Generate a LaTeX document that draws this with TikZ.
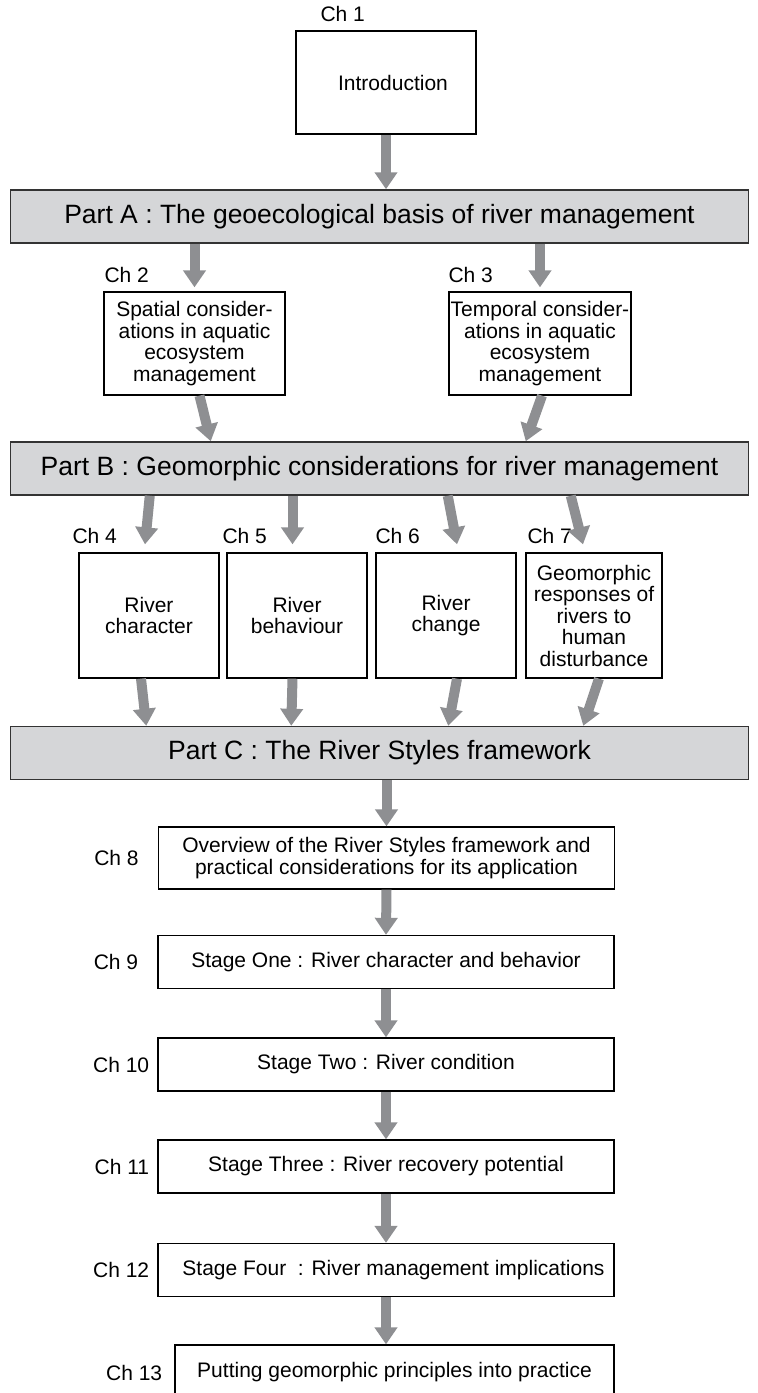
\documentclass[tikz,border=0pt]{standalone}
\usepackage{fontspec}
\setmainfont{Liberation Sans}
\usetikzlibrary{arrows.meta,positioning,calc}
\definecolor{bargray}{RGB}{213,214,216}
\definecolor{flowgray}{RGB}{142,143,146}

\begin{document}
\begin{tikzpicture}[
  x=1pt, y=-1pt,
  font=\fontsize{21}{21.5}\selectfont,
  box/.style={draw=black, line width=1.3pt, fill=white, align=center, inner sep=0pt},
  part/.style={box, draw=black!80, line width=1.5pt, fill=bargray,
               minimum width=738pt, minimum height=53pt,
               font=\fontsize{26.5}{30}\selectfont},
  chap/.style={box, minimum width=140pt, minimum height=125pt},
  stage/.style={box, minimum width=456pt, minimum height=53pt},
  lbl/.style={inner sep=0pt, anchor=south west},
  flow/.style={-{Triangle[length=17pt,width=22pt]}, line width=10pt, draw=flowgray}
]
\useasboundingbox (0,0) rectangle (758,1393);

% Part A
\node[box, minimum width=180pt, minimum height=103pt] (intro) at (386,82.5)
  {\hspace*{14pt}Introduction};
\node[lbl] (l1) at ([xshift=25pt,yshift=8pt]intro.north west) {Ch 1};
\node[part] (partA) at (379.5,216.5)
  {Part A : The geoecological basis of river management};
\draw[flow] (intro.south) -- (intro.south |- partA.north);

\node[box, minimum width=181pt, minimum height=103pt] (ch2) at (194.5,343.5)
  {Spatial consider-\\ations in aquatic\\ecosystem\\management};
\node[box, minimum width=182pt, minimum height=103pt] (ch3) at (540,343.5)
  {Temporal consider-\\ations in aquatic\\ecosystem\\management};
\node[lbl] (l2) at ([xshift=1pt,yshift=8pt]ch2.north west) {Ch 2};
\node[lbl] (l3) at ([yshift=8pt]ch3.north west) {Ch 3};
\draw[flow] (partA.south -| ch2.north) -- ([yshift=4pt]ch2.north);
\draw[flow] (partA.south -| ch3.north) -- ([yshift=4pt]ch3.north);

% Part B
\node[part] (partB) at (379.5,468.5)
  {Part B : Geomorphic considerations for river management};
\draw[flow] ($(ch2.south)+(5,0)$) -- ($(partB.north west)+(201,0)$);
\draw[flow] ($(ch3.south)+(2,0)$) -- ($(partB.north west)+(516,0)$);

\node[chap] (ch4) at (149,615.5) {River\\character};
\node[chap] (ch5) at (297,615.5) {River\\behaviour};
\node[chap] (ch6) at (446,615.5) {River\\change};
\node[chap, minimum width=136pt] (ch7) at (594,615.5)
  {Geomorphic\\responses of\\rivers to\\human\\disturbance};
\node[lbl] (l4) at ([xshift=-6pt,yshift=8pt]ch4.north west) {Ch 4};
\node[lbl] (l5) at ([xshift=-4pt,yshift=8pt]ch5.north west) {Ch 5};
\node[lbl] (l6) at ([yshift=8pt]ch6.north west) {Ch 6};
\node[lbl] (l7) at ([xshift=2pt,yshift=8pt]ch7.north west) {Ch 7};
\draw[flow] ($(partB.south west)+(140,0)$) -- ($(ch4.north)+(-4,-8)$);
\draw[flow] ($(partB.south -| ch5.north)+(-4.5,0)$) -- ($(ch5.north)+(-4.5,-8)$);
\draw[flow] ($(partB.south west)+(438,0)$) -- ($(ch6.north)+(11,-8)$);
\draw[flow] ($(partB.south west)+(561,0)$) -- ($(ch7.north)+(-11,-8)$);

% Part C
\node[part] (partC) at (379.5,753) {Part C : The River Styles framework};
\draw[flow] ($(ch4.south)+(-8,0)$) -- ($(partC.north west)+(136.5,0)$);
\draw[flow] ($(ch5.south)+(-4.5,0)$) -- ($(partC.north west)+(281.5,0)$);
\draw[flow] ($(ch6.south)+(11,0)$) -- ($(partC.north west)+(438.5,0)$);
\draw[flow] ($(ch7.south)+(5,0)$) -- ($(partC.north west)+(573.5,0)$);

\node[stage, minimum height=62pt] (ch8) at (386.5,858)
  {Overview of the River Styles framework and\\practical considerations for its application};
\node[stage] (ch9) at (386,962) {Stage One : River character and behavior};
\node[stage] (ch10) at (386,1064.5) {Stage Two : River condition};
\node[stage] (ch11) at (386,1166.5) {Stage Three : River recovery potential};
\node[stage] (ch12) at (386,1270)
  {\hspace*{15pt}Stage Four~~: River management implications};
\node[stage, minimum width=439pt, minimum height=55pt] (ch13) at (394.5,1372.5)
  {Putting geomorphic principles into practice};

\node[inner sep=0pt, left=19pt of ch8] (l8) {Ch 8};
\node[inner sep=0pt, left=19pt of ch9] (l9) {Ch 9};
\node[inner sep=0pt, left=8pt of ch10] (l10) {Ch 10};
\node[inner sep=0pt, left=8pt of ch11] (l11) {Ch 11};
\node[inner sep=0pt, left=8pt of ch12] (l12) {Ch 12};
\node[inner sep=0pt, left=12pt of ch13] (l13) {Ch 13};

\draw[flow] (partC.south -| ch8.north) -- (ch8.north);
\draw[flow] (ch8.south) -- (ch9.north);
\draw[flow] (ch9.south) -- (ch10.north);
\draw[flow] (ch10.south) -- (ch11.north);
\draw[flow] (ch11.south) -- (ch12.north);
\draw[flow] (ch12.south) -- (ch12.south |- ch13.north);
\end{tikzpicture}
\end{document}
